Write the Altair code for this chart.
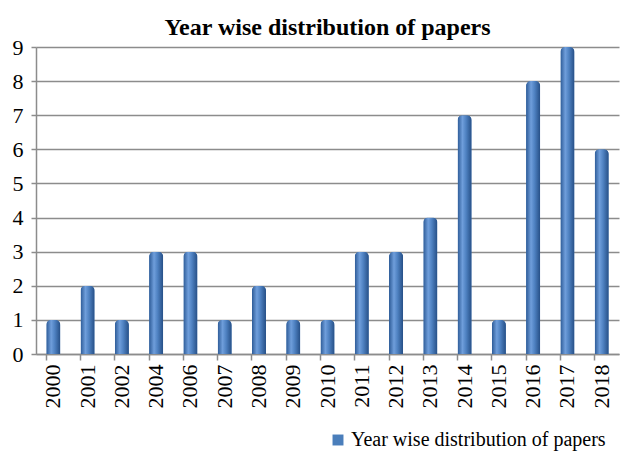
import altair as alt
import pandas as pd

years = ["2000", "2001", "2002", "2004", "2006", "2007", "2008", "2009", "2010",
         "2011", "2012", "2013", "2014", "2015", "2016", "2017", "2018"]
counts = [1, 2, 1, 3, 3, 1, 2, 1, 1, 3, 3, 4, 7, 1, 8, 9, 6]
series = "Year wise distribution of papers"

df = pd.DataFrame({"year": years, "count": counts, "series": [series] * len(years)})

FONT = "Liberation Serif"

x = alt.X("year:N", sort=years, title=None,
          scale=alt.Scale(paddingInner=0.59, paddingOuter=0.3),
          axis=alt.Axis(labelAngle=270, labelFontSize=22, labelFont=FONT, labelColor="black",
                        labelPadding=4, tickSize=6, tickColor="#8c8c8c", domainColor="#8c8c8c",
                        domainWidth=1.5, tickWidth=1.5, bandPosition=0, labelAlign="right",
                        labelBaseline="middle", grid=False))
y = alt.Y("count:Q", title=None,
          scale=alt.Scale(domain=[0, 9], nice=False),
          axis=alt.Axis(values=list(range(10)), labelFontSize=22, labelFont=FONT, labelColor="black",
                        labelPadding=8, tickSize=5, tickColor="#8c8c8c", domainColor="#8c8c8c",
                        domainWidth=1.5, tickWidth=1.5, gridColor="#8c8c8c", gridWidth=1.5))

base = alt.Chart(df)

legend_layer = base.mark_bar(cornerRadiusTopLeft=5, cornerRadiusTopRight=5).encode(
    x=x, y=y,
    color=alt.Color("series:N",
                    scale=alt.Scale(domain=[series], range=["#4a7ebb"]),
                    legend=alt.Legend(title=None, orient="none", legendX=292, legendY=383,
                                      symbolType="square", symbolSize=120, labelOffset=3,
                                      labelFont=FONT, labelFontSize=20, labelColor="black",
                                      labelLimit=400, direction="horizontal")),
)

gradient = alt.Gradient(
    gradient="linear", x1=0, x2=1, y1=0, y2=0,
    stops=[alt.GradientStop(offset=0, color="#2c5a96"),
           alt.GradientStop(offset=0.35, color="#6f9edb"),
           alt.GradientStop(offset=0.6, color="#4f82c2"),
           alt.GradientStop(offset=1, color="#264f86")],
)

bars = base.mark_bar(fill=gradient, cornerRadiusTopLeft=5, cornerRadiusTopRight=5).encode(
    x=x, y=y,
)

chart = alt.layer(legend_layer, bars).properties(
    width=583, height=307,
    title=alt.Title(series, font=FONT, fontSize=24, fontWeight="bold", color="black", offset=-4),
    autosize=alt.AutoSizeParams(type="none"),
    padding={"left": 28, "top": 39, "right": 4, "bottom": 100},
    background="white",
).configure_view(stroke=None).configure_axis(labelFont=FONT).configure_legend(labelFont=FONT)

chart.save("out.html", embed_options={"renderer": "svg", "actions": False})
